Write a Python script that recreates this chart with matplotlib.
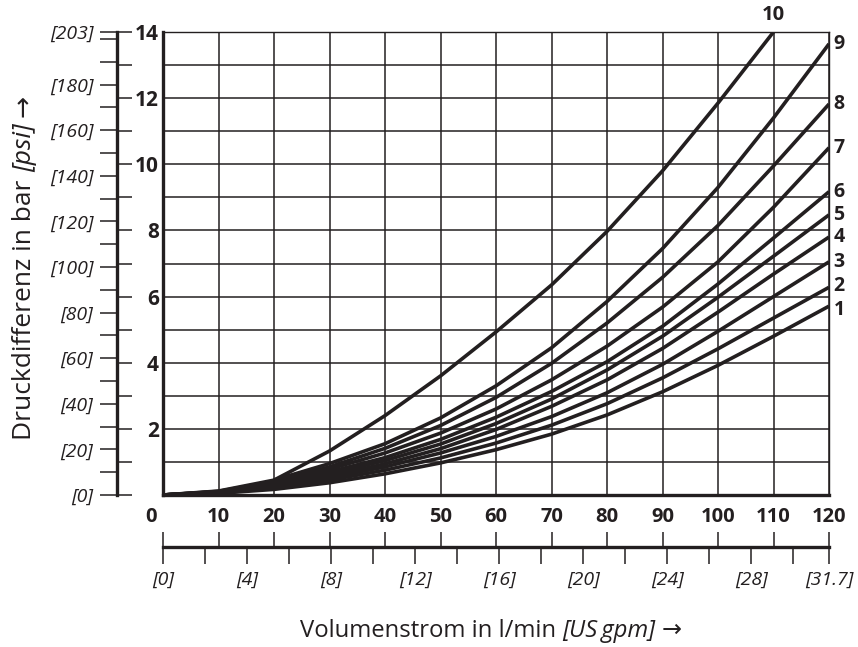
import matplotlib.pyplot as plt
from matplotlib.transforms import ScaledTranslation

plt.rcParams['font.family'] = ['Open Sans', 'DejaVu Sans']

ink = '#231f20'

# volume flow in l/min, pressure difference in bar
flow = [0, 10, 20, 30, 40, 50, 60, 70, 80, 90, 100, 110, 120]
curve_1 = [0, 0.05, 0.17, 0.37, 0.64, 0.97, 1.37, 1.84, 2.42, 3.12, 3.92, 4.80, 5.71]
curve_2 = [0, 0.06, 0.21, 0.45, 0.75, 1.12, 1.57, 2.11, 2.76, 3.54, 4.42, 5.35, 6.28]
curve_3 = [0, 0.07, 0.25, 0.52, 0.85, 1.27, 1.77, 2.37, 3.09, 3.95, 4.95, 6.00, 7.05]
curve_4 = [0, 0.08, 0.29, 0.58, 0.94, 1.40, 1.98, 2.68, 3.48, 4.43, 5.53, 6.68, 7.80]
curve_5 = [0, 0.09, 0.32, 0.64, 1.04, 1.54, 2.16, 2.90, 3.78, 4.80, 5.98, 7.22, 8.47]
curve_6 = [0, 0.10, 0.35, 0.70, 1.13, 1.68, 2.35, 3.13, 4.03, 5.10, 6.38, 7.77, 9.17]
curve_7 = [0, 0.10, 0.38, 0.78, 1.27, 1.87, 2.60, 3.48, 4.50, 5.68, 7.05, 8.70, 10.50]
curve_8 = [0, 0.11, 0.41, 0.85, 1.41, 2.10, 2.95, 3.98, 5.20, 6.58, 8.15, 9.95, 11.82]
curve_9 = [0, 0.12, 0.45, 0.95, 1.55, 2.33, 3.30, 4.45, 5.85, 7.45, 9.30, 11.40, 13.64]
flow_10 = [20, 30, 40, 50, 60, 70, 80, 90, 100, 110]
curve_10 = [0.45, 1.33, 2.40, 3.60, 4.93, 6.35, 7.97, 9.80, 11.85, 14.0]

curves = [curve_1, curve_2, curve_3, curve_4, curve_5, curve_6, curve_7, curve_8, curve_9]
names = ['1', '2', '3', '4', '5', '6', '7', '8', '9']

x_ticks = list(range(0, 121, 10))
bar_ticks = list(range(0, 15))
bar_labels = ['', '', '2', '', '4', '', '6', '', '8', '', '10', '', '12', '', '14']
psi_ticks = list(range(0, 201, 10)) + [203.05]
psi_labels = ['[0]', '', '[20]', '', '[40]', '', '[60]', '', '[80]', '', '[100]', '',
              '[120]', '', '[140]', '', '[160]', '', '[180]', '', '', '[203]']
gpm_ticks = list(range(0, 31, 2)) + [31.7]
gpm_labels = ['[0]', '', '[4]', '', '[8]', '', '[12]', '', '[16]', '', '[20]', '',
              '[24]', '', '[28]', '', '[31.7]']

W, H = 858, 647
fig = plt.figure(figsize=(W / 100, H / 100), dpi=100)

# main chart
ax = fig.add_axes([163 / W, 1 - 495 / H, 666 / W, 463 / H])
ax.set_xlim(0, 120)
ax.set_ylim(0, 14)
ax.set_xticks(x_ticks)
ax.set_yticks(bar_ticks)
ax.set_yticklabels([])
ax.grid(color=ink, lw=1.1)
ax.tick_params(length=0, colors=ink)
ax.tick_params(axis='x', pad=9, labelsize=14.5)
for lab in ax.get_xticklabels():
    lab.set_fontweight('bold')
lab0 = ax.get_xticklabels()[0]
lab0.set_transform(lab0.get_transform() + ScaledTranslation(-0.12, 0, fig.dpi_scale_trans))
for s in ['left', 'bottom']:
    ax.spines[s].set_linewidth(2.4)
for s in ['top', 'right']:
    ax.spines[s].set_linewidth(1.0)
for s in ax.spines.values():
    s.set_color(ink)

for c, n in zip(curves, names):
    ax.plot(flow, c, color=ink, lw=2.6, solid_capstyle='butt')
    # the two lowest labels sit a little apart in the original
    ly = c[-1] - 0.12 if n == '1' else c[-1] + (0.04 if n == '2' else 0)
    ax.text(120.8, ly, n, ha='left', va='center', fontsize=14,
            fontweight='bold', color=ink, clip_on=False)
ax.plot(flow_10, curve_10, color=ink, lw=2.6, solid_capstyle='butt')
ax.text(flow_10[-1], 14.5, '10', ha='center', va='center', fontsize=14.5,
        fontweight='bold', color=ink, clip_on=False)

# left scale: psi (left side) and bar (right side)
ax_psi = fig.add_axes([117 / W, 1 - 495 / H, 0.0001, 463 / H])
ax_psi.set_ylim(0, 14 * 14.5038)
ax_psi.set_xticks([])
for s in ['top', 'bottom', 'right']:
    ax_psi.spines[s].set_visible(False)
ax_psi.spines['left'].set_linewidth(2.4)
ax_psi.spines['left'].set_color(ink)
ax_psi.set_yticks(psi_ticks)
ax_psi.set_yticklabels(psi_labels, style='italic')
ax_psi.tick_params(axis='y', direction='out', length=12, width=1.1, pad=5,
                   labelsize=14, colors=ink)

ax_bar = ax_psi.twinx()
ax_bar.set_ylim(0, 14)
for s in ax_bar.spines.values():
    s.set_visible(False)
ax_bar.set_yticks(bar_ticks)
ax_bar.set_yticklabels(bar_labels, fontweight='bold', ha='right')
ax_bar.tick_params(axis='y', direction='out', length=11, width=1.1, pad=19,
                   labelsize=15, colors=ink)

# bottom scale: US gpm (below) and l/min (above)
ax_gpm = fig.add_axes([163 / W, 1 - 547 / H, 666 / W, 0.0001])
ax_gpm.set_xlim(0, 120 / 3.78541)
ax_gpm.set_yticks([])
for s in ['top', 'left', 'right']:
    ax_gpm.spines[s].set_visible(False)
ax_gpm.spines['bottom'].set_linewidth(2.4)
ax_gpm.spines['bottom'].set_color(ink)
ax_gpm.set_xticks(gpm_ticks)
ax_gpm.set_xticklabels(gpm_labels, style='italic')
ax_gpm.tick_params(axis='x', direction='out', length=12, width=1.1, pad=5,
                   labelsize=14, colors=ink)

ax_lmin = ax_gpm.twiny()
ax_lmin.set_xlim(0, 120)
for s in ax_lmin.spines.values():
    s.set_visible(False)
ax_lmin.set_xticks(x_ticks)
ax_lmin.set_xticklabels([])
ax_lmin.tick_params(axis='x', direction='out', length=11, width=1.1, colors=ink)


def pieces_label(parts, x, y, size, rotation=0):
    # text made of plain and italic parts, centred on (x, y) in pixels, y = baseline
    r = fig.canvas.get_renderer()

    def width(s, style):
        t = fig.text(0, 0, s, fontsize=size, style=style)
        w = t.get_window_extent(r).width
        t.remove()
        return w

    gap = width('a a', 'normal') - width('aa', 'normal')
    widths = [width(s, st) for s, st in parts]
    pos = -(sum(widths) + gap * (len(parts) - 1)) / 2
    for (s, st), w in zip(parts, widths):
        if rotation == 0:
            off = ScaledTranslation(pos / 100, 0, fig.dpi_scale_trans)
        else:
            off = ScaledTranslation(0, pos / 100, fig.dpi_scale_trans)
        fig.text(x / W, 1 - y / H, s, transform=fig.transFigure + off, fontsize=size,
                 style=st, rotation=rotation, rotation_mode='anchor',
                 ha='left', va='baseline', color=ink)
        pos += w + gap


pieces_label([('Druckdifferenz in bar', 'normal'), ('[psi]', 'italic'), ('→', 'normal')],
             31, 267, 19, rotation=90)
pieces_label([('Volumenstrom in l/min', 'normal'), ('[US\u2009gpm]', 'italic'), ('→', 'normal')],
             491, 637, 17.2)

fig.savefig('out.png', dpi=100)
